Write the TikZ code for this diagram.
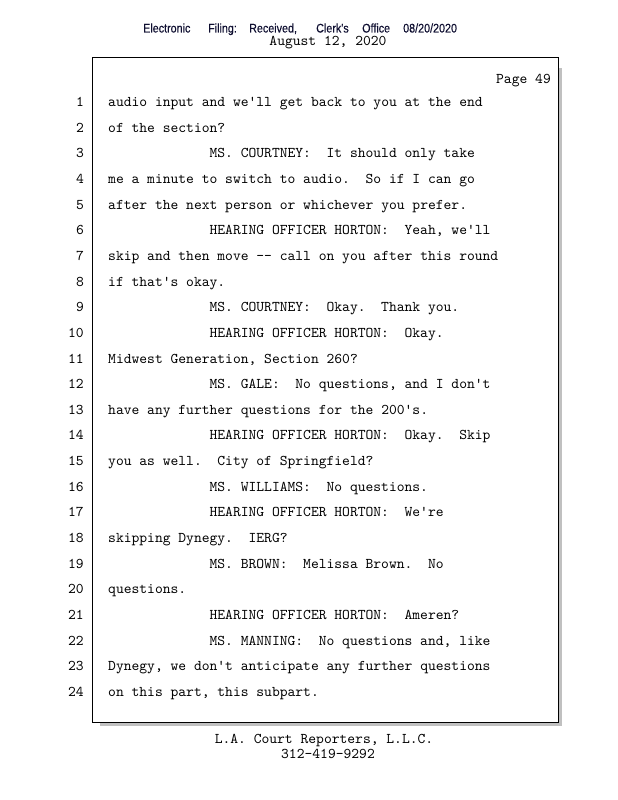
\documentclass[tikz,border=0pt]{standalone}
\usepackage{fontspec}
\setmonofont{lmmono10-regular.otf}[WordSpace={1,0,0}]
\newfontfamily\hdrfont{Liberation Sans}[FakeStretch=0.86,FakeBold=0.4]
\definecolor{hdrnavy}{RGB}{14,14,48}
\definecolor{shadowgray}{RGB}{192,192,192}
\frenchspacing
\begin{document}
\begin{tikzpicture}[x=1pt,y=-1pt,
  linetxt/.style={font=\ttfamily\fontsize{14.86}{16}\selectfont,inner sep=0pt},
  hdrword/.style={font=\hdrfont\fontsize{12.5}{14}\selectfont,text=hdrnavy,inner sep=0pt,anchor=base west}]
\useasboundingbox (0,0) rectangle (618,800);
% filing stamp and date
\foreach \xw/\w in {143/Electronic,208/{Filing:},249/{Received,},316/Clerk's,362/Office,403/{08/20/2020}}{
    \node[hdrword] (h\xw) at (\xw,32.5) {\w};
    }
\node[linetxt,anchor=base] (date) at (328,45.5) {August 12, 2020};
% page frame with its shadow
\fill[shadowgray] (100,68) rectangle (562,726);
\draw[fill=white,line width=1pt] (92,58) rectangle (558,722);
\node[linetxt,anchor=base east] (page) at (551,84) {Page 49};
\foreach \n/\ind/\txt in {
    1/0/{audio input and we'll get back to you at the end},
    2/0/{of the section?},
    3/1/{MS. COURTNEY:~ It should only take},
    4/0/{me a minute to switch to audio.~ So if I can go},
    5/0/{after the next person or whichever you prefer.},
    6/1/{HEARING OFFICER HORTON:~ Yeah, we'll},
    7/0/{skip and then move -- call on you after this round},
    8/0/{if that's okay.},
    9/1/{MS. COURTNEY:~ Okay.~ Thank you.},
    10/1/{HEARING OFFICER HORTON:~ Okay.},
    11/0/{Midwest Generation, Section 260?},
    12/1/{MS. GALE:~ No questions, and I don't},
    13/0/{have any further questions for the 200's.},
    14/1/{HEARING OFFICER HORTON:~ Okay.~ Skip},
    15/0/{you as well.~ City of Springfield?},
    16/1/{MS. WILLIAMS:~ No questions.},
    17/1/{HEARING OFFICER HORTON:~ We're},
    18/0/{skipping Dynegy.~ IERG?},
    19/1/{MS. BROWN:~ Melissa Brown.~ No},
    20/0/{questions.},
    21/1/{HEARING OFFICER HORTON:~ Ameren?},
    22/1/{MS. MANNING:~ No questions and, like},
    23/0/{Dynegy, we don't anticipate any further questions},
    24/0/{on this part, this subpart.}}{
    \node[linetxt,anchor=base east] (n\n) at (84,{106.5+(\n-1)*25.65}) {\n};
    \node[linetxt,anchor=base west] (t\n) at ({108+\ind*101.4},{106.5+(\n-1)*25.65}) {\txt};
    }
% reporter footer
\node[linetxt,anchor=base] (firm) at (324,743.5) {L.A. Court Reporters, L.L.C.};
\node[linetxt,anchor=base] (phone) at (328,758) {312-419-9292};
\end{tikzpicture}
\end{document}
